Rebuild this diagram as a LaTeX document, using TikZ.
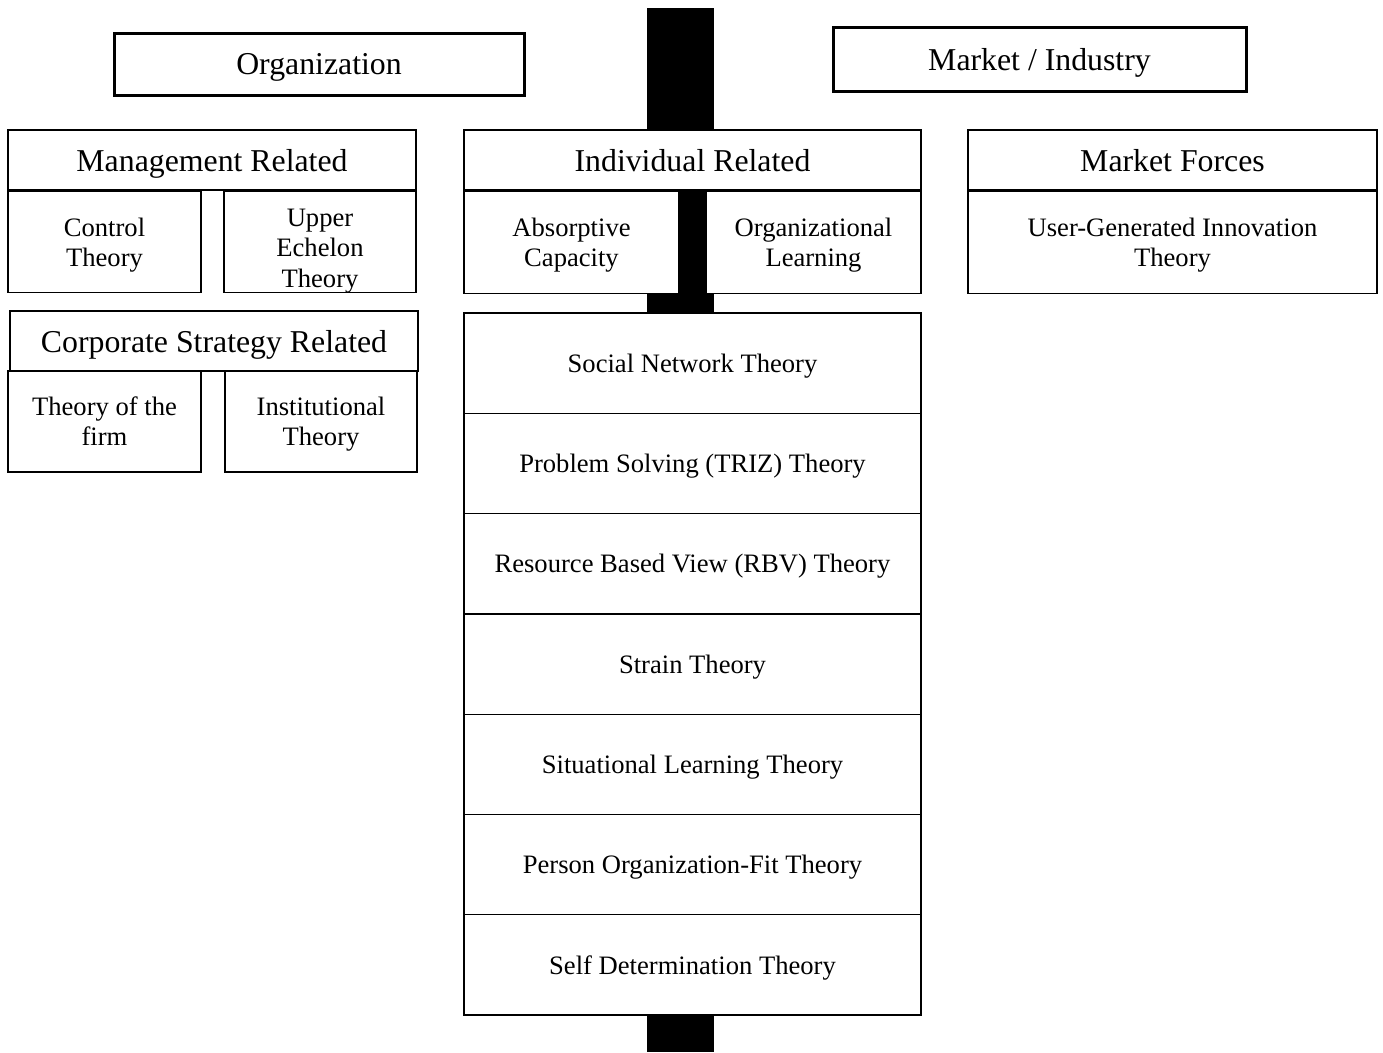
\documentclass[tikz,border=0pt]{standalone}
\usepackage{fontspec}
\setmainfont{Liberation Serif}
\usetikzlibrary{positioning}

\tikzset{
  box/.style={draw, fill=white, line width=1.3pt, inner sep=0pt, align=center,
    text depth=-2pt, font=\fontsize{26.6}{30}\selectfont},
  headbox/.style={box, minimum height=60pt, font=\fontsize{31.8}{36}\selectfont},
  topbox/.style={headbox, line width=3pt, text depth=-5pt},
}

\begin{document}
\begin{tikzpicture}[x=1pt,y=-1pt]
\useasboundingbox (0,0) rectangle (1383,1052);
% the black spine behind the middle column
\node[fill=black, inner sep=0pt, minimum width=67pt, minimum height=1044pt] (spine) at (680.5,530) {};

\node[topbox, minimum width=410pt, minimum height=62pt] (org) at (319,64) {Organization};
\node[topbox, minimum width=413pt, minimum height=64pt, text depth=-3pt] (market) at (1039.5,59) {Market / Industry};

% left column
\node[headbox, minimum width=408pt] (mgmt) at (212,160) {Management Related};
\node[box, minimum width=193pt, minimum height=101pt, below right=0pt of mgmt.south west] (control) {Control\\Theory};
\node[box, minimum width=192pt, minimum height=101pt, below left=0pt of mgmt.south east] (upper) {};
\begin{scope}
\clip (upper.north west) rectangle ([yshift=-10pt]upper.south east);
\node[align=center, inner sep=0pt, font=\fontsize{26.6}{30.5}\selectfont] (uppertxt) at ([yshift=-9pt]upper.center) {Upper\\Echelon\\Theory};
\end{scope}

\node[headbox, minimum width=408pt] (corp) at (214,341) {Corporate Strategy Related};
\node[box, minimum width=193pt, minimum height=101pt] (firm) at (104.5,421.5) {Theory of the\\firm};
\node[box, minimum width=192pt, minimum height=101pt] (inst) at (321,421.5) {Institutional\\Theory};

% middle column
\node[headbox, minimum width=457pt] (indiv) at (692.5,160) {Individual Related};
\node[box, minimum width=215pt, minimum height=102pt, below right=0pt of indiv.south west] (absorb) {Absorptive\\Capacity};
\node[box, minimum width=215pt, minimum height=102pt, below left=0pt of indiv.south east] (orglearn) {Organizational\\Learning};

\foreach \t [count=\i] in {Social Network Theory, Problem Solving (TRIZ) Theory,
    Resource Based View (RBV) Theory, Strain Theory, Situational Learning Theory,
    Person Organization-Fit Theory, Self Determination Theory}
  \node[box, minimum width=457pt, minimum height=100.3pt] (row\i) at (692.5,{313+100.3*(\i-0.5)}) {\t};

% right column
\node[headbox, minimum width=409pt] (forces) at (1172.5,160) {Market Forces};
\node[box, minimum width=409pt, minimum height=102pt, below=0pt of forces] (usergen) {User-Generated Innovation\\Theory};
\end{tikzpicture}
\end{document}
